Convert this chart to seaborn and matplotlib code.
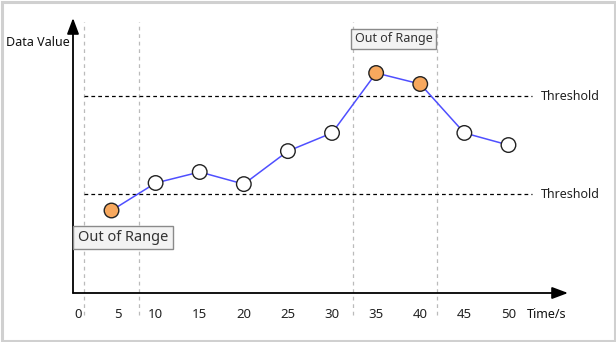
import matplotlib
matplotlib.use("Agg")
import matplotlib.pyplot as plt
import seaborn as sns
import pandas as pd
from matplotlib.patches import Rectangle

# ---- data ----
times = [5, 10, 15, 20, 25, 30, 35, 40, 45, 50]
values = [30, 40, 44, 39.6, 51.6, 58.2, 80, 76, 58.2, 53.8]
status = ["out", "in", "in", "in", "in", "in", "out", "out", "in", "in"]
tick_labels = ["0", "5", "10", "15", "20", "25", "30", "35", "40", "45", "50"]
tick_pos = [1.2, 5.7, 10, 15, 20, 25, 30, 35, 40, 45, 50]
thresholds = [36, 71.6]
band_edges = [1.9, 8.1, 32.4, 41.9]

sns.set_theme(style="white")
plt.rcParams["font.family"] = ["Noto Sans", "DejaVu Sans"]

df = pd.DataFrame({"time": times, "value": values, "status": status})

W, H = 616, 342
fig = plt.figure(figsize=(W / 100, H / 100), dpi=100)
ax = fig.add_axes([73 / W, 49 / H, (568 - 73) / W, (293 - 18) / H])
ax.set_xlim(0.635, 56.75)
ax.set_ylim(0, 100)
for s in ax.spines.values():
    s.set_visible(False)

# vertical dashed guides
for xe in band_edges:
    ax.axvline(xe, ymin=-0.08, ymax=0.985, color="#bbbbbb", lw=0.9,
               ls=(0, (3, 3)), clip_on=False, zorder=1)

# thresholds
for t in thresholds:
    ax.hlines(t, 1.88, 52.7, color="black", lw=0.9, ls=(0, (3, 2.5)), zorder=2)
    ax.text(53.7, t, "Threshold", va="center", ha="left", fontsize=9,
            color="#222222", clip_on=False)

# data line & markers
sns.lineplot(data=df, x="time", y="value", color="#4f4fff", lw=1.1, ax=ax,
             zorder=3, legend=False)
sns.scatterplot(data=df, x="time", y="value", hue="status",
                palette={"out": "#f7a85e", "in": "white"}, s=110,
                edgecolor="#222222", linewidth=1.0, ax=ax, zorder=4,
                legend=False)

# axes arrows
ax.annotate("", xy=(1.0, 0), xytext=(0, 0), xycoords="axes fraction",
            arrowprops=dict(arrowstyle="-|>,head_length=0.8,head_width=0.3",
                            color="black", lw=1.3, shrinkA=0, shrinkB=0))
ax.annotate("", xy=(0, 1.0), xytext=(0, 0), xycoords="axes fraction",
            arrowprops=dict(arrowstyle="-|>,head_length=0.8,head_width=0.3",
                            color="black", lw=1.3, shrinkA=0, shrinkB=0))

ax.set_xticks(tick_pos)
ax.set_xticklabels(tick_labels, fontsize=9.5, color="#222222")
ax.tick_params(axis="x", length=0, pad=11)
ax.set_yticks([])
ax.set_xlabel("")
ax.set_ylabel("")

# annotations
box = dict(boxstyle="square,pad=0.3", facecolor="#f3f3f3", edgecolor="#8a8a8a", lw=1)
ax.text(6.3, 20.2, "Out of Range", ha="center", va="center", fontsize=10.5,
        color="#333333", bbox=box, zorder=5)
ax.text(37.0, 92.4, "Out of Range", ha="center", va="center", fontsize=9,
        color="#333333", bbox=box, zorder=5)

fig.text(6 / W, 1 - 43 / H, "Data Value", ha="left", va="center", fontsize=9,
         color="#111111")
fig.text(527 / W, 1 - 315 / H, "Time/s", ha="left", va="center", fontsize=9,
         color="#111111")

# outer border
fig.patches.append(Rectangle((1.5 / W, 1.5 / H), 1 - 3 / W, 1 - 3 / H,
                             transform=fig.transFigure, fill=False,
                             edgecolor="#d0d0d0", lw=2.2))

fig.savefig("out.png", dpi=100)
